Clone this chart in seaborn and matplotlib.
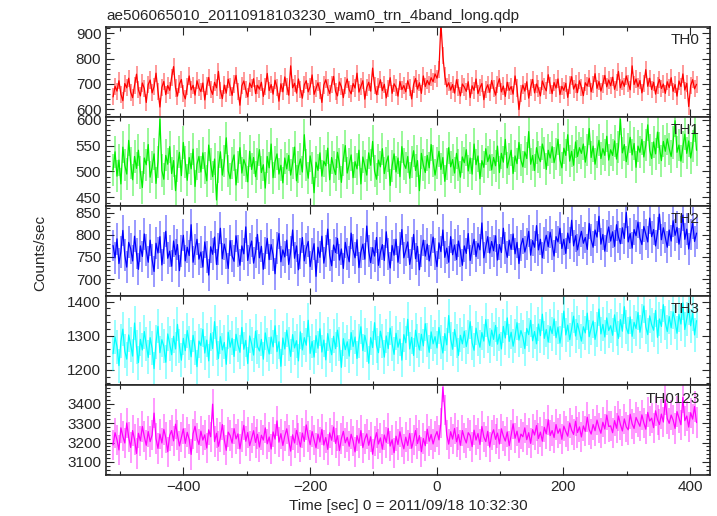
import numpy as np
import pandas as pd
import matplotlib
matplotlib.use("Agg")
from matplotlib import pyplot as plt
from matplotlib.ticker import MultipleLocator
import seaborn as sns

# time bins (sec from 2011/09/18 10:32:30)
t_start, t_stop, n_bins = -511, 410, 300

th0 = [648, 690, 671, 712, 659, 633, 701, 684, 722, 667, 645, 694, 738, 676, 652,
       703, 681, 626, 697, 715, 664, 689, 742, 671, 608, 686, 709, 657, 693, 674,
       726, 768, 683, 651, 699, 717, 662, 640, 688, 731, 676, 694, 655, 712, 684,
       669, 703, 636, 691, 725, 678, 658, 706, 684, 749, 672, 641, 695, 663, 718,
       687, 654, 699, 733, 670, 615, 692, 711, 676, 648, 703, 685, 720, 661, 694,
       679, 706, 650, 688, 741, 673, 697, 659, 714, 686, 631, 700, 668, 727, 690,
       655, 771, 684, 702, 663, 719, 677, 643, 696, 712, 668, 689, 735, 658, 681,
       704, 673, 626, 695, 716, 684, 661, 698, 729, 670, 652, 707, 688, 645, 693,
       719, 676, 660, 701, 683, 742, 667, 690, 712, 639, 685, 706, 671, 762, 694,
       657, 688, 716, 673, 698, 644, 681, 724, 662, 700, 686, 651, 709, 677, 693,
       668, 712, 685, 640, 697, 721, 679, 704, 662, 731, 689, 713, 696, 724, 708,
       739, 722, 756, 940, 812, 731, 688, 704, 675, 697, 663, 716, 684, 652, 699,
       687, 670, 708, 645, 692, 674, 719, 661, 684, 701, 637, 678, 696, 666, 713,
       682, 655, 697, 720, 668, 691, 650, 706, 674, 689, 659, 731, 683, 598, 662,
       695, 671, 708, 643, 686, 717, 664, 699, 680, 652, 711, 688, 672, 736, 694,
       661, 705, 683, 719, 657, 690, 674, 702, 646, 695, 728, 679, 699, 665, 712,
       686, 653, 704, 691, 722, 668, 697, 740, 682, 709, 671, 699, 733, 688, 715,
       692, 726, 678, 705, 749, 684, 711, 690, 731, 702, 676, 771, 697, 719, 688,
       713, 664, 701, 756, 690, 722, 677, 706, 659, 694, 717, 681, 699, 662, 708,
       685, 724, 670, 697, 651, 711, 689, 739, 675, 702, 610, 693, 716, 680, 698]

th1 = [503, 538, 491, 522, 476, 547, 512, 495, 560, 517, 484, 529, 506, 541, 498,
       469, 526, 513, 552, 489, 508, 534, 477, 519, 601, 502, 485, 531, 514, 548,
       496, 521, 463, 510, 537, 492, 556, 518, 483, 527, 505, 543, 471, 514, 529,
       499, 536, 507, 482, 551, 515, 490, 524, 445, 509, 538, 493, 520, 565, 501,
       486, 517, 532, 474, 508, 546, 497, 523, 511, 480, 539, 504, 527, 490, 515,
       542, 498, 513, 468, 529, 507, 553, 488, 519, 534, 495, 512, 478, 526, 505,
       531, 493, 516, 547, 482, 509, 524, 499, 571, 513, 487, 530, 506, 459, 518,
       502, 536, 491, 520, 511, 545, 484, 527, 508, 494, 537, 515, 479, 523, 550,
       497, 514, 532, 488, 519, 505, 541, 476, 528, 510, 493, 536, 512, 558, 501,
       485, 522, 509, 544, 496, 517, 530, 473, 511, 534, 499, 526, 490, 548, 515,
       506, 529, 487, 518, 540, 502, 521, 463, 535, 512, 498, 531, 507, 552, 520,
       493, 516, 539, 504, 527, 481, 514, 546, 509, 523, 497, 535, 512, 489, 528,
       517, 542, 501, 526, 495, 553, 513, 530, 486, 521, 508, 544, 519, 532, 503,
       527, 511, 549, 498, 535, 518, 562, 507, 524, 541, 496, 530, 515, 556, 522,
       509, 538, 525, 577, 514, 531, 502, 546, 528, 519, 553, 536, 504, 541, 526,
       548, 517, 534, 562, 523, 507, 545, 531, 571, 520, 539, 512, 557, 529, 546,
       535, 553, 518, 541, 583, 527, 549, 514, 538, 560, 525, 544, 531, 568, 522,
       542, 531, 559, 524, 547, 601, 536, 552, 519, 543, 566, 532, 554, 508, 549,
       537, 562, 528, 551, 590, 541, 525, 557, 534, 576, 546, 521, 558, 539, 563,
       544, 529, 556, 598, 537, 551, 520, 547, 572, 535, 559, 526, 549, 588, 541]

th2 = [776, 748, 791, 735, 762, 810, 754, 727, 783, 769, 741, 797, 758, 722, 775,
       751, 802, 765, 738, 788, 744, 717, 781, 759, 796, 732, 770, 808, 747, 763,
       729, 786, 755, 778, 719, 764, 799, 741, 772, 753, 823, 738, 767, 790, 745,
       761, 727, 784, 750, 709, 773, 756, 795, 733, 768, 815, 746, 779, 758, 724,
       787, 752, 740, 798, 763, 731, 775, 757, 818, 742, 769, 786, 736, 760, 801,
       748, 774, 722, 759, 792, 744, 778, 755, 712, 771, 803, 739, 766, 750, 788,
       733, 762, 811, 747, 775, 721, 758, 794, 741, 769, 785, 728, 756, 780, 706,
       772, 749, 797, 736, 764, 813, 754, 730, 777, 760, 792, 743, 768, 724, 783,
       757, 739, 804, 766, 748, 789, 726, 761, 779, 745, 820, 763, 737, 771, 752,
       794, 731, 760, 778, 742, 807, 757, 725, 776, 754, 790, 738, 770, 812, 748,
       765, 784, 733, 759, 801, 746, 774, 721, 763, 788, 752, 779, 741, 766, 795,
       757, 728, 782, 762, 811, 749, 770, 738, 796, 755, 777, 744, 786, 763, 731,
       775, 758, 803, 742, 769, 790, 751, 781, 766, 827, 748, 773, 796, 759, 785,
       764, 798, 743, 778, 760, 815, 771, 749, 788, 767, 802, 757, 783, 735, 776,
       792, 761, 779, 808, 754, 787, 772, 821, 766, 790, 748, 781, 799, 773, 806,
       778, 752, 796, 784, 815, 769, 790, 758, 804, 782, 833, 775, 798, 766, 789,
       808, 781, 794, 767, 826, 789, 772, 811, 795, 842, 779, 801, 763, 797, 818,
       786, 807, 774, 823, 795, 780, 816, 792, 851, 784, 803, 770, 812, 798, 829,
       793, 778, 819, 801, 784, 838, 796, 812, 775, 805, 847, 789, 816, 794, 772,
       811, 786, 832, 799, 817, 779, 806, 845, 790, 813, 768, 801, 827, 785, 804]

th3 = [1247, 1296, 1268, 1212, 1283, 1319, 1255, 1231, 1302, 1274, 1240, 1337, 1266, 1221, 1289,
       1258, 1312, 1275, 1236, 1294, 1263, 1203, 1281, 1327, 1250, 1288, 1269, 1222, 1305, 1277,
       1244, 1298, 1261, 1333, 1270, 1228, 1292, 1256, 1315, 1279, 1238, 1301, 1265, 1209, 1284,
       1271, 1318, 1249, 1287, 1226, 1306, 1262, 1341, 1278, 1233, 1297, 1258, 1280, 1216, 1310,
       1266, 1292, 1239, 1304, 1273, 1251, 1324, 1260, 1286, 1218, 1299, 1276, 1243, 1313, 1268,
       1255, 1289, 1231, 1308, 1272, 1246, 1296, 1267, 1329, 1253, 1282, 1210, 1293, 1261, 1316,
       1276, 1239, 1303, 1264, 1285, 1226, 1311, 1258, 1294, 1272, 1345, 1248, 1283, 1237, 1300,
       1263, 1320, 1252, 1287, 1229, 1306, 1270, 1244, 1298, 1262, 1316, 1275, 1207, 1291, 1259,
       1282, 1240, 1309, 1268, 1296, 1233, 1285, 1326, 1256, 1301, 1273, 1219, 1294, 1265, 1338,
       1271, 1250, 1313, 1284, 1237, 1299, 1262, 1322, 1277, 1245, 1307, 1266, 1290, 1228, 1303,
       1279, 1348, 1261, 1295, 1242, 1316, 1283, 1258, 1304, 1270, 1335, 1288, 1251, 1311, 1276,
       1297, 1264, 1324, 1282, 1249, 1306, 1273, 1359, 1290, 1260, 1318, 1285, 1242, 1301, 1276,
       1313, 1268, 1296, 1341, 1279, 1257, 1322, 1290, 1266, 1309, 1284, 1347, 1298, 1271, 1316,
       1289, 1330, 1275, 1304, 1261, 1327, 1293, 1352, 1283, 1310, 1269, 1299, 1338, 1287, 1315,
       1296, 1262, 1321, 1303, 1345, 1285, 1312, 1276, 1334, 1300, 1363, 1292, 1318, 1281, 1327,
       1306, 1349, 1294, 1325, 1278, 1316, 1372, 1302, 1331, 1288, 1320, 1357, 1299, 1336, 1311,
       1284, 1326, 1308, 1366, 1297, 1322, 1343, 1289, 1318, 1378, 1305, 1333, 1296, 1352, 1315,
       1329, 1301, 1361, 1319, 1292, 1347, 1313, 1385, 1324, 1306, 1355, 1298, 1339, 1321, 1368,
       1310, 1344, 1387, 1326, 1303, 1358, 1332, 1316, 1374, 1295, 1349, 1327, 1391, 1338, 1312,
       1356, 1323, 1370, 1341, 1307, 1362, 1334, 1396, 1318, 1350, 1381, 1329, 1365, 1302, 1344]

th0123 = [3188, 3251, 3214, 3162, 3276, 3233, 3198, 3301, 3227, 3175, 3262, 3216, 3144, 3248, 3209,
          3283, 3231, 3186, 3257, 3205, 3239, 3352, 3221, 3170, 3244, 3198, 3268, 3226, 3153, 3237,
          3262, 3209, 3295, 3241, 3183, 3228, 3271, 3196, 3253, 3217, 3139, 3246, 3284, 3222, 3190,
          3259, 3213, 3240, 3172, 3266, 3230, 3398, 3205, 3248, 3181, 3227, 3293, 3214, 3160, 3254,
          3236, 3197, 3272, 3219, 3245, 3168, 3231, 3289, 3207, 3252, 3184, 3223, 3261, 3201, 3243,
          3177, 3238, 3213, 3276, 3194, 3229, 3167, 3255, 3218, 3312, 3202, 3246, 3185, 3234, 3271,
          3211, 3156, 3240, 3198, 3263, 3224, 3178, 3249, 3206, 3291, 3232, 3189, 3257, 3215, 3173,
          3244, 3203, 3268, 3187, 3226, 3165, 3250, 3212, 3280, 3196, 3235, 3159, 3221, 3258, 3199,
          3227, 3181, 3243, 3208, 3152, 3236, 3197, 3262, 3174, 3218, 3245, 3186, 3230, 3140, 3209,
          3251, 3193, 3224, 3166, 3239, 3201, 3273, 3182, 3215, 3148, 3233, 3190, 3256, 3204, 3168,
          3228, 3185, 3247, 3171, 3212, 3262, 3195, 3236, 3153, 3221, 3184, 3269, 3207, 3242, 3193,
          3231, 3257, 3214, 3301, 3485, 3368, 3239, 3192, 3256, 3218, 3273, 3204, 3241, 3186, 3262,
          3225, 3198, 3251, 3236, 3179, 3264, 3213, 3247, 3190, 3283, 3229, 3205, 3258, 3177, 3240,
          3266, 3217, 3249, 3193, 3271, 3234, 3208, 3255, 3184, 3238, 3297, 3222, 3259, 3201, 3244,
          3230, 3276, 3215, 3251, 3196, 3267, 3239, 3288, 3221, 3254, 3207, 3279, 3245, 3318, 3236,
          3262, 3226, 3293, 3248, 3271, 3217, 3285, 3257, 3233, 3301, 3264, 3242, 3310, 3252, 3281,
          3229, 3286, 3258, 3331, 3267, 3244, 3293, 3261, 3316, 3277, 3248, 3305, 3270, 3342, 3283,
          3286, 3251, 3313, 3274, 3337, 3293, 3260, 3322, 3281, 3266, 3346, 3297, 3273, 3330, 3306,
          3284, 3343, 3302, 3269, 3356, 3311, 3326, 3277, 3364, 3318, 3293, 3347, 3306, 3421, 3324,
          3299, 3342, 3316, 3273, 3360, 3327, 3292, 3433, 3313, 3337, 3280, 3354, 3321, 3386, 3303]

bands = ["TH0", "TH1", "TH2", "TH3", "TH0123"]
series = [th0, th1, th2, th3, th0123]
errs = [34, 31, 36, 50, 78]   # typical error bar half-length
colors = ["#ff0000", "#00ee00", "#0000ff", "#00ffff", "#ff00ff"]
ylims = [(570, 925), (433, 606), (662, 865), (1154, 1417), (3033, 3495)]
ymajor = [100, 50, 50, 100, 100]
yminor = [20, 10, 10, 20, 20]

sns.set_style("ticks")
plt.rcParams["font.family"] = ["Liberation Sans", "DejaVu Sans"]
plt.rcParams["font.size"] = 11

t = np.linspace(t_start, t_stop, n_bins)

fig, axes = plt.subplots(5, 1, figsize=(7.17, 5.16), dpi=100, sharex=True)
fig.subplots_adjust(left=0.148, right=0.990, bottom=0.0795, top=0.9477, hspace=0)

for ax, name, vals, e, c, yl, mj, mn in zip(axes, bands, series, errs, colors, ylims, ymajor, yminor):
    df = pd.DataFrame({"time": t, "rate": vals})
    ax.vlines(df.time, df.rate - e, df.rate + e, color=c, alpha=0.4, lw=1.4)
    sns.lineplot(data=df, x="time", y="rate", ax=ax, color=c, lw=0.9)
    ax.set_xlim(-522, 431)
    ax.set_ylim(*yl)
    ax.yaxis.set_major_locator(MultipleLocator(mj))
    ax.yaxis.set_minor_locator(MultipleLocator(mn))
    ax.xaxis.set_major_locator(MultipleLocator(200))
    ax.xaxis.set_minor_locator(MultipleLocator(100))
    ax.tick_params(which="both", direction="in", top=True, right=True, labelsize=11)
    ax.tick_params(which="major", length=6, width=0.8)
    ax.tick_params(which="minor", length=3, width=0.8)
    ax.set_xlabel("")
    ax.set_ylabel("")
    for s in ax.spines.values():
        s.set_linewidth(1.2)
    ax.text(0.983, 0.93, name, transform=ax.transAxes, ha="right", va="top", fontsize=11)

axes[0].text(0.0, 1.04, "ae506065010_20110918103230_wam0_trn_4band_long.qdp",
             transform=axes[0].transAxes, ha="left", va="bottom", fontsize=11)
axes[-1].set_xlabel("Time [sec] 0 = 2011/09/18 10:32:30", fontsize=11)
fig.text(0.056, 0.51, "Counts/sec", rotation=90, ha="center", va="center", fontsize=11)

fig.savefig("out.png", dpi=100)
